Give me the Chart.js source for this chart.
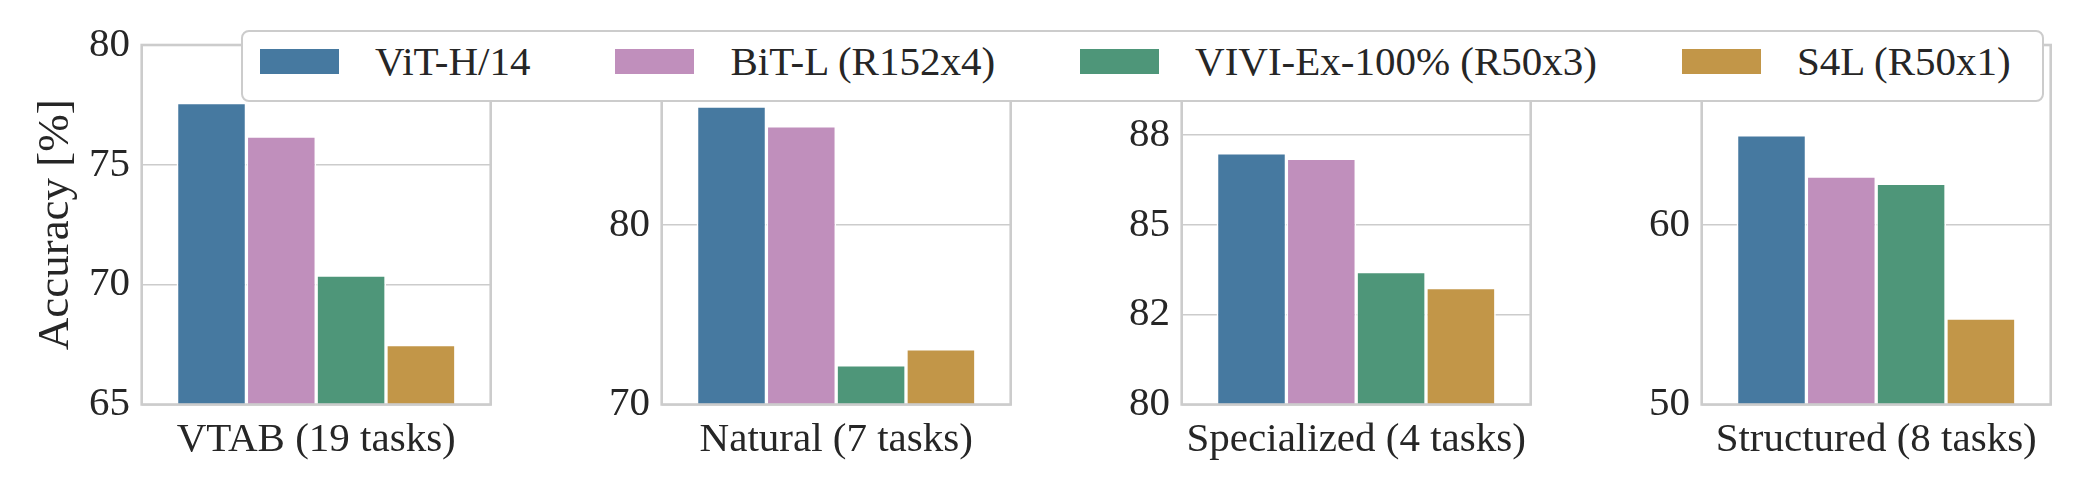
<!DOCTYPE html>
<html>
<head>
<meta charset="utf-8">
<script src="https://cdn.jsdelivr.net/npm/chart.js@4.4.0/dist/chart.umd.min.js"></script>
<style>
    body {
        margin: 0;
        width: 2090px;
        height: 490px;
        background: #fff;
        position: relative;
        overflow: hidden;
        font-family: "Liberation Serif", "DejaVu Serif", serif;
        color: #262626;
    }
    .panel {
        position: absolute;
        top: 0;
        width: 520px;
        height: 490px;
    }
    #legend {
        position: absolute;
        left: 241px;
        top: 30px;
        width: 1803px;
        height: 72px;
        box-sizing: border-box;
        border: 2px solid #cccccc;
        border-radius: 8px;
        background: #fff;
        display: flex;
        align-items: center;
        padding-left: 17px;
        padding-bottom: 9px;
        gap: 85px;
        z-index: 5;
    }
    .item {
        display: flex;
        align-items: center;
        font-size: 41px;
        line-height: 1;
        white-space: nowrap;
    }
    .swatch {
        width: 79px;
        height: 25px;
        margin-right: 36px;
    }
</style>
</head>
<body>
<div id="legend"></div>
<div class="panel" style="left:0px"><canvas id="c0" width="520" height="490"></canvas></div>
<div class="panel" style="left:520px"><canvas id="c1" width="520" height="490"></canvas></div>
<div class="panel" style="left:1040px"><canvas id="c2" width="520" height="490"></canvas></div>
<div class="panel" style="left:1560px"><canvas id="c3" width="520" height="490"></canvas></div>

<script>
const categories = ["VTAB (19 tasks)", "Natural (7 tasks)", "Specialized (4 tasks)", "Structured (8 tasks)"];

// accuracy per task group
const vitH14 = [77.6, 86.6, 87.0, 65.0];
const bitL = [76.2, 85.5, 86.85, 62.7];
const viviEx = [70.4, 72.2, 83.7, 62.3];
const s4l = [67.5, 73.1, 83.25, 54.8];

const seriesNames = ["ViT-H/14", "BiT-L (R152x4)", "VIVI-Ex-100% (R50x3)", "S4L (R50x1)"];
const seriesColors = ["#4679a0", "#c08fbc", "#4e9679", "#c29648"];

const yMins = [65, 70, 80, 50];
const yMaxs = [80, 90, 90, 70];
const tickValues = [[65, 70, 75, 80], [70, 80, 90], [80, 82.5, 85, 87.5, 90], [50, 60, 70]];
const tickLabels = [["65", "70", "75", "80"], ["70", "80", "90"], ["80", "82", "85", "88", "90"], ["50", "60", "70"]];

const allSeries = [vitH14, bitL, viviEx, s4l];
const textColor = "#262626";

Chart.defaults.font.family = "'Liberation Serif', 'DejaVu Serif', serif";
Chart.defaults.color = textColor;

// legend (shared by all four panels)
const legend = document.getElementById("legend");
seriesNames.forEach((name, s) => {
    const item = document.createElement("div");
    item.className = "item";
    const sw = document.createElement("div");
    sw.className = "swatch";
    sw.style.background = seriesColors[s];
    const label = document.createElement("span");
    label.textContent = name;
    item.appendChild(sw);
    item.appendChild(label);
    legend.appendChild(item);
});

const framePlugin = {
    id: "frame",
    afterDatasetsDraw(chart) {
        const { ctx, chartArea } = chart;
        ctx.save();
        ctx.strokeStyle = "#cccccc";
        ctx.lineWidth = 2.6;
        ctx.strokeRect(chartArea.left, chartArea.top, chartArea.right - chartArea.left, chartArea.bottom - chartArea.top);
        ctx.restore();
    },
};

for (let i = 0; i < categories.length; i++) {
    new Chart(document.getElementById("c" + i), {
        type: "bar",
        data: {
            labels: [categories[i]],
            datasets: seriesNames.map((name, s) => ({
                label: name,
                data: [allSeries[s][i]],
                backgroundColor: seriesColors[s],
                borderColor: "#ffffff",
                borderWidth: 1.65,
                borderSkipped: "start",
                categoryPercentage: 0.8,
                barPercentage: 1.0,
            })),
        },
        options: {
            responsive: false,
            animation: false,
            layout: {
                padding: { left: 0, right: 29.3, top: 45, bottom: 0 },
            },
            plugins: {
                legend: { display: false },
                tooltip: { enabled: false },
            },
            scales: {
                x: {
                    afterFit: (s) => {
                        s.height = 85.5;
                    },
                    ticks: {
                        padding: 11,
                        maxRotation: 0,
                        font: { size: 41 },
                        color: textColor,
                    },
                    grid: { display: false, drawTicks: false },
                    border: { display: false },
                },
                y: {
                    min: yMins[i],
                    max: yMaxs[i],
                    afterFit: (s) => {
                        s.width = 141.7;
                    },
                    afterBuildTicks: (s) => {
                        s.ticks = tickValues[i].map((v) => ({ value: v }));
                    },
                    ticks: {
                        padding: 11.7,
                        autoSkip: false,
                        font: { size: 41 },
                        color: textColor,
                        callback: (v, idx) => tickLabels[i][idx],
                    },
                    grid: { color: "#cccccc", lineWidth: 1.6, drawTicks: false },
                    border: { display: false },
                    title: {
                        display: i === 0,
                        text: "Accuracy [%]",
                        font: { size: 45 },
                        color: textColor,
                        padding: { top: 29, bottom: 0 },
                    },
                },
            },
        },
        plugins: [framePlugin],
    });
}
</script>
</body>
</html>
